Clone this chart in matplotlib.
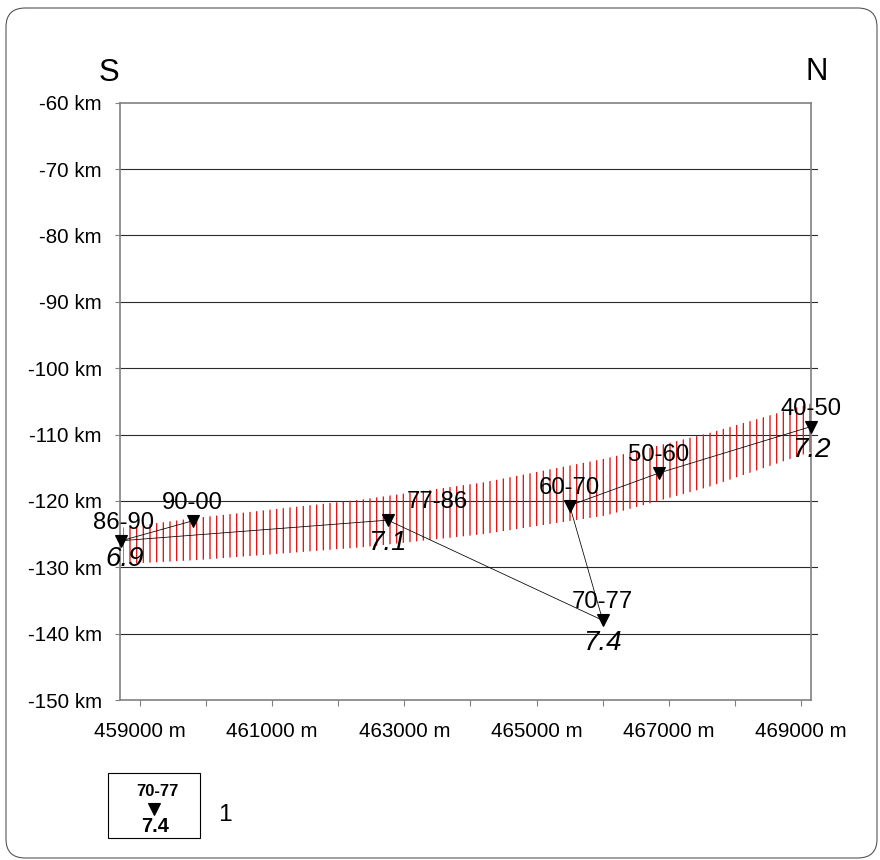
import matplotlib
matplotlib.use("Agg")
import matplotlib.pyplot as plt
import numpy as np
from matplotlib.patches import FancyBboxPatch, Rectangle
from matplotlib.lines import Line2D

plt.rcParams['font.family'] = ['Liberation Sans', 'DejaVu Sans']
plt.rcParams['hatch.linewidth'] = 1.2

# epicentre positions, in time order (the connecting line follows this order)
periods = ["40-50", "50-60", "60-70", "70-77", "77-86", "86-90", "90-00"]
pos_x = [469150, 466850, 465500, 466000, 462750, 458720, 459800]   # m
pos_y = [-108.8, -115.8, -120.7, -138.0, -122.9, -126.0, -123.0]  # km
mags = ["7.2", "", "", "7.4", "7.1", "6.9", ""]

# red hatched band (upper / lower edge)
band_x = [458750, 459900, 462350, 464200, 466050, 467600, 469150]
band_upper = [-124.0, -122.5, -119.8, -117.2, -113.6, -109.8, -105.3]
band_lower = [-129.5, -128.9, -127.0, -125.0, -122.2, -117.9, -112.6]

x_major = np.arange(459000, 469001, 2000)
x_minor = np.arange(459000, 469001, 1000)
y_ticks = np.arange(-150, -59, 10)

W, H = 880, 860
fig = plt.figure(figsize=(W / 80, H / 80), dpi=80)

def fx(px):
    return px / W

def fy(py):
    return 1 - py / H

# rounded frame round the whole picture
frame = FancyBboxPatch((fx(6), fy(858)), fx(877) - fx(6), fy(8) - fy(858),
                       boxstyle="round,pad=0,rounding_size=0.022",
                       transform=fig.transFigure, facecolor='none',
                       edgecolor='#555555', linewidth=1.0)
fig.add_artist(frame)

ax = fig.add_axes([fx(120), fy(700), fx(811) - fx(120), fy(102.7) - fy(700)])
ax.set_xlim(458700, 469150)
ax.set_ylim(-150, -60)

for v in y_ticks[1:-1]:
    ax.axhline(v, xmin=0, xmax=1.009, color='#2a2a2a', linewidth=1.0,
               clip_on=False, zorder=1)

ax.fill_between(band_x, band_lower, band_upper, facecolor='none',
                edgecolor='#e01818', linewidth=0, hatch='||', zorder=2)

ax.plot(pos_x, pos_y, color='black', linewidth=0.7, zorder=3, clip_on=False)
ax.plot(pos_x, pos_y, linestyle='none', marker='v', markersize=10,
        color='black', zorder=4, clip_on=False)

label_off = {"77-86": (50, 18), "86-90": (2, 18)}
mag_off = {"6.9": (3, -18)}
for p, x, y, m in zip(periods, pos_x, pos_y, mags):
    ax.annotate(p, (x, y), xytext=label_off.get(p, (0, 18)),
                textcoords='offset pixels', ha='center', va='center',
                fontsize=21.5, zorder=5)
    if m:
        ax.annotate(m, (x, y), xytext=mag_off.get(m, (0, -23)),
                    textcoords='offset pixels', ha='center', va='center',
                    fontsize=25, style='italic', zorder=5)

for s in ax.spines.values():
    s.set_color('#808080')
    s.set_linewidth(1.5)

ax.set_xticks(x_major)
ax.set_xticks(x_minor, minor=True)
ax.set_xticklabels([f"{v} m" for v in x_major])
ax.set_yticks(y_ticks)
ax.set_yticklabels([f"{v} km" for v in y_ticks])
ax.tick_params(axis='x', which='both', direction='out', length=5.5,
               color='#808080', width=1.0)
ax.tick_params(axis='x', which='major', labelsize=18.5, pad=14)
ax.tick_params(axis='y', direction='out', length=4.5, color='#808080',
               width=1.0, labelsize=18.5, pad=12)

fig.text(fx(109), fy(73), "S", fontsize=28, ha='center', va='center')
fig.text(fx(817), fy(72), "N", fontsize=28, ha='center', va='center')

# legend box
fig.add_artist(Rectangle((fx(108), fy(838)), fx(200) - fx(108),
                         fy(773) - fy(838), transform=fig.transFigure,
                         facecolor='none', edgecolor='black', linewidth=1.0))
fig.text(fx(157), fy(792), periods[3], fontsize=15, fontweight='bold',
         ha='center', va='center')
fig.add_artist(Line2D([fx(154)], [fy(809)], transform=fig.transFigure,
                      marker='v', markersize=11, color='black', linestyle='none'))
fig.text(fx(155), fy(827), mags[3], fontsize=18, fontweight='bold',
         ha='center', va='center')
fig.text(fx(225), fy(815), "1", fontsize=22, ha='center', va='center')

fig.savefig("out.png", dpi=80)
